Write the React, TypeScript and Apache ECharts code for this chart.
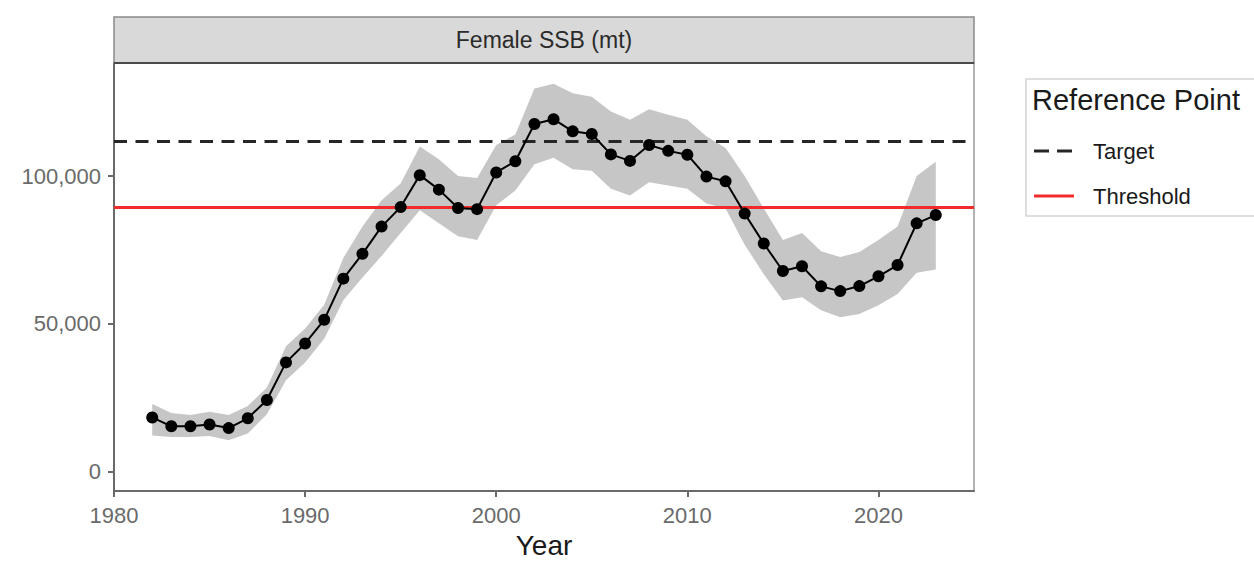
import React, { useEffect, useRef } from "react";
import * as echarts from "echarts";

const YEARS = [
  1982, 1983, 1984, 1985, 1986, 1987, 1988, 1989, 1990, 1991, 1992, 1993, 1994, 1995,
  1996, 1997, 1998, 1999, 2000, 2001, 2002, 2003, 2004, 2005, 2006, 2007, 2008, 2009,
  2010, 2011, 2012, 2013, 2014, 2015, 2016, 2017, 2018, 2019, 2020, 2021, 2022, 2023,
];

const SSB = [
  18400, 15400, 15400, 16000, 14800, 18100, 24300, 37000, 43400, 51400, 65300, 73700, 82900, 89500,
  100300, 95400, 89200, 88800, 101200, 105000, 117600, 119200, 115100, 114200, 107300, 105100, 110500, 108500,
  107200, 99800, 98200, 87300, 77200, 67900, 69500, 62700, 61100, 62800, 66100, 69900, 84000, 86800,
];

const UPPER = [
  22900, 19900, 19200, 20300, 19200, 22300, 28500, 42500, 48500, 56500, 72300, 82900, 91800, 97500,
  110000, 105700, 100000, 99300, 110500, 114000, 129600, 131200, 128000, 126800, 121800, 119000, 122600, 120700,
  119000, 113400, 109500, 100000, 89000, 78400, 80700, 74600, 72600, 74300, 78400, 82900, 100000, 104800,
];

const LOWER = [
  12300, 11800, 11800, 12100, 10700, 13000, 19500, 31000, 37000, 45000, 58000, 65700, 73000, 80700,
  88400, 84000, 79600, 78400, 90100, 95100, 104000, 106200, 102300, 101800, 95700, 93400, 97900, 96800,
  95700, 90700, 89000, 76800, 66800, 57900, 59000, 54600, 52300, 53400, 56300, 60100, 67300, 68400,
];

const TARGET = 111900;
const THRESHOLD = 89500;

const X_TICKS = [1980, 1990, 2000, 2010, 2020];
const Y_TICKS = [0, 50000, 100000];
const X_MIN = 1980;
const X_MAX = 2025;
const Y_MIN = -6500;
const Y_MAX = 138200;

const STRIP_TITLE = "Female SSB (mt)";
const X_TITLE = "Year";
const LEGEND_TITLE = "Reference Point";
const LEGEND_ITEMS = ["Target", "Threshold"];

const FONT = "'Liberation Sans', Arial, Helvetica, sans-serif";

export default function App() {
  const ref = useRef<HTMLDivElement>(null);

  useEffect(() => {
    if (!ref.current) return;
    const chart = echarts.init(ref.current, null, { renderer: "svg" });

    const GL = 114;
    const GT = 63;
    const GW = 860;
    const GH = 432;

    const bandData = YEARS.map((y, i) => [y, LOWER[i], UPPER[i]]);
    const ssbData = YEARS.map((y, i) => [y, SSB[i]]);

    const option: any = {
      animation: false,
      backgroundColor: "#ffffff",
      textStyle: { fontFamily: FONT },
      grid: {
        left: GL,
        top: GT,
        width: GW,
        height: GH,
        show: true,
        borderColor: "#9a9a9a",
        borderWidth: 1.5,
        backgroundColor: "transparent",
      },
      xAxis: {
        type: "value",
        min: X_MIN,
        max: X_MAX,
        name: X_TITLE,
        nameLocation: "middle",
        nameGap: 39,
        nameTextStyle: { fontSize: 28, color: "#1a1a1a", fontFamily: FONT },
        splitLine: { show: false },
        axisLine: { show: true, onZero: false, lineStyle: { color: "#6a6a6a", width: 2 } },
        axisTick: {
          show: true,
          length: 6,
          lineStyle: { color: "#6a6a6a", width: 2 },
          customValues: X_TICKS,
        },
        axisLabel: {
          fontSize: 22,
          color: "#6a6a6a",
          margin: 13,
          fontFamily: FONT,
          customValues: X_TICKS,
          formatter: (v: number) => String(v),
        },
      },
      yAxis: {
        type: "value",
        min: Y_MIN,
        max: Y_MAX,
        splitLine: { show: false },
        axisLine: { show: true, onZero: false, lineStyle: { color: "#6a6a6a", width: 2 } },
        axisTick: {
          show: true,
          length: 6,
          lineStyle: { color: "#6a6a6a", width: 2 },
          customValues: Y_TICKS,
        },
        axisLabel: {
          fontSize: 22,
          color: "#6a6a6a",
          margin: 13,
          fontFamily: FONT,
          customValues: Y_TICKS,
          formatter: (v: number) => v.toLocaleString("en-US"),
        },
      },
      series: [
        {
          name: "band",
          type: "custom",
          data: bandData,
          silent: true,
          z: 1,
          encode: { x: 0, y: [1, 2] },
          renderItem: (params: any, api: any) => {
            if (params.dataIndex !== 0) return null;
            const upper: number[][] = [];
            const lower: number[][] = [];
            for (let i = 0; i < bandData.length; i++) {
              upper.push(api.coord([bandData[i][0], bandData[i][2]]));
              lower.push(api.coord([bandData[i][0], bandData[i][1]]));
            }
            const pts = upper.concat(lower.reverse());
            return {
              type: "polygon",
              shape: { points: pts },
              style: { fill: "#c6c6c6", stroke: "none" },
            };
          },
          markLine: {
            silent: true,
            symbol: "none",
            z: 5,
            label: { show: false },
            data: [
              { yAxis: TARGET, lineStyle: { color: "#262626", width: 3, type: [13, 8.5] } },
              { yAxis: THRESHOLD, lineStyle: { color: "#f02b2b", width: 3, type: "solid" } },
            ],
          },
        },
        {
          name: "SSB",
          type: "line",
          data: ssbData,
          symbol: "circle",
          symbolSize: 12,
          showSymbol: true,
          itemStyle: { color: "#000000" },
          lineStyle: { color: "#000000", width: 2 },
          z: 10,
        },
      ],
      graphic: [
        {
          type: "rect",
          shape: { x: GL, y: 17, width: GW, height: GT - 17 },
          style: { fill: "#d9d9d9", stroke: "#8a8a8a", lineWidth: 1.5 },
          z: 20,
        },
        {
          type: "line",
          shape: { x1: GL, y1: GT, x2: GL + GW, y2: GT },
          style: { stroke: "#4a4a4a", lineWidth: 2 },
          z: 21,
        },
        {
          type: "text",
          x: GL + GW / 2,
          y: 40,
          style: {
            text: STRIP_TITLE,
            fontSize: 23,
            fill: "#2a2a2a",
            fontFamily: FONT,
            textAlign: "center",
            textVerticalAlign: "middle",
          },
          z: 22,
        },
        {
          type: "rect",
          shape: { x: 1026, y: 79, width: 240, height: 137 },
          style: { fill: "#ffffff", stroke: "#d4d4d4", lineWidth: 1.5 },
          z: 20,
        },
        {
          type: "text",
          x: 1032,
          y: 100,
          style: {
            text: LEGEND_TITLE,
            fontSize: 29,
            fill: "#1a1a1a",
            fontFamily: FONT,
            textAlign: "left",
            textVerticalAlign: "middle",
          },
          z: 21,
        },
        {
          type: "line",
          shape: { x1: 1034, y1: 151, x2: 1073, y2: 151 },
          style: { stroke: "#262626", lineWidth: 3, lineDash: [15, 8] },
          z: 21,
        },
        {
          type: "text",
          x: 1093,
          y: 151,
          style: {
            text: LEGEND_ITEMS[0],
            fontSize: 22,
            fill: "#1a1a1a",
            fontFamily: FONT,
            textAlign: "left",
            textVerticalAlign: "middle",
          },
          z: 21,
        },
        {
          type: "line",
          shape: { x1: 1034, y1: 196, x2: 1074, y2: 196 },
          style: { stroke: "#f02b2b", lineWidth: 3 },
          z: 21,
        },
        {
          type: "text",
          x: 1093,
          y: 196,
          style: {
            text: LEGEND_ITEMS[1],
            fontSize: 22,
            fill: "#1a1a1a",
            fontFamily: FONT,
            textAlign: "left",
            textVerticalAlign: "middle",
          },
          z: 21,
        },
      ],
    };

    chart.setOption(option);
    return () => {
      chart.dispose();
    };
  }, []);

  return (
    <div
      ref={ref}
      style={{ position: "fixed", left: 0, top: 0, width: 1254, height: 564 }}
    />
  );
}
